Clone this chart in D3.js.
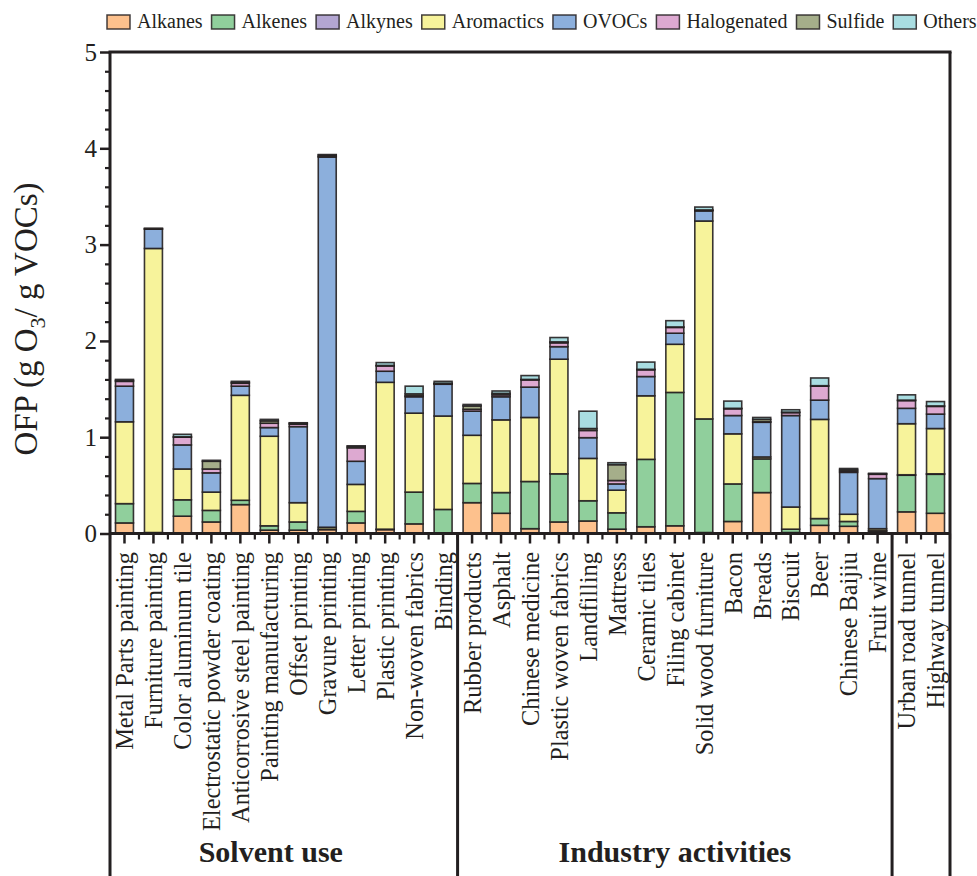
<!DOCTYPE html>
<html>
<head>
<meta charset="utf-8">
<script src="https://cdn.jsdelivr.net/npm/d3@7/dist/d3.min.js"></script>
<style>
  body { margin: 0; background: #fff; }
  svg { display: block; }
  text { font-family: "Liberation Serif", "Times New Roman", serif; fill: #231f20; }
</style>
</head>
<body>
<svg id="chart" width="977" height="876"></svg>
<script>
// Emission sources (x axis) and their grouping
const categories = [
  "Metal Parts painting", "Furniture painting", "Color aluminum tile", "Electrostatic powder coating",
  "Anticorrosive steel painting", "Painting manufacturing", "Offset printing", "Gravure printing",
  "Letter printing", "Plastic printing", "Non-woven fabrics", "Binding",
  "Rubber products", "Asphalt", "Chinese medicine", "Plastic woven fabrics", "Landfilling",
  "Mattress", "Ceramic tiles", "Filing cabinet", "Solid wood furniture", "Bacon", "Breads",
  "Biscuit", "Beer", "Chinese Baijiu", "Fruit wine",
  "Urban road tunnel", "Highway tunnel"
];
const groupNames = ["Solvent use", "Industry activities", ""];
const groupSizes = [12, 15, 2];

const seriesNames = ["Alkanes", "Alkenes", "Alkynes", "Aromactics", "OVOCs", "Halogenated", "Sulfide", "Others"];

// OFP contributions by compound class (g O3 / g VOCs)
const alkanes     = [0.11, 0.005, 0.18, 0.12, 0.30, 0.035, 0.035, 0.04, 0.11, 0.04, 0.10, 0.005,
                     0.32, 0.21, 0.05, 0.12, 0.13, 0.045, 0.07, 0.08, 0.01, 0.125, 0.425, 0.01, 0.085, 0.075, 0.025,
                     0.225, 0.21];
const alkenes     = [0.20, 0.005, 0.17, 0.12, 0.045, 0.045, 0.085, 0.005, 0.12, 0.005, 0.33, 0.245,
                     0.20, 0.215, 0.49, 0.50, 0.21, 0.17, 0.70, 1.385, 1.18, 0.39, 0.35, 0.035, 0.07, 0.05, 0.005,
                     0.38, 0.405];
const alkynes     = [0, 0, 0, 0, 0, 0, 0, 0, 0, 0, 0, 0,
                     0, 0, 0, 0, 0, 0, 0, 0, 0, 0, 0, 0, 0, 0, 0,
                     0.005, 0.005];
const aromatics   = [0.85, 2.95, 0.32, 0.19, 1.09, 0.93, 0.20, 0.02, 0.28, 1.525, 0.82, 0.97,
                     0.50, 0.755, 0.665, 1.19, 0.44, 0.235, 0.66, 0.50, 2.055, 0.52, 0.02, 0.23, 1.03, 0.075, 0.02,
                     0.53, 0.47];
const ovocs       = [0.37, 0.20, 0.25, 0.20, 0.095, 0.09, 0.79, 3.845, 0.24, 0.115, 0.17, 0.33,
                     0.25, 0.24, 0.315, 0.13, 0.215, 0.065, 0.20, 0.115, 0.105, 0.19, 0.36, 0.95, 0.20, 0.435, 0.52,
                     0.16, 0.15];
const halogenated = [0.05, 0.005, 0.08, 0.04, 0.03, 0.045, 0.025, 0.005, 0.14, 0.055, 0.01, 0.005,
                     0.02, 0.02, 0.075, 0.04, 0.075, 0.035, 0.07, 0.06, 0.005, 0.07, 0.005, 0.03, 0.145, 0.015, 0.045,
                     0.08, 0.08];
const sulfide     = [0.01, 0.005, 0.005, 0.08, 0.01, 0.025, 0.01, 0.015, 0.015, 0.005, 0.02, 0.005,
                     0.035, 0.015, 0.005, 0.01, 0.02, 0.165, 0.005, 0.005, 0.005, 0.005, 0.025, 0.005, 0.005, 0.015, 0.005,
                     0.005, 0.005];
const others      = [0.01, 0, 0.025, 0.01, 0.01, 0.015, 0.005, 0.005, 0.005, 0.03, 0.08, 0.02,
                     0.015, 0.025, 0.04, 0.045, 0.18, 0.02, 0.075, 0.065, 0.03, 0.075, 0.02, 0.025, 0.08, 0.01, 0.005,
                     0.055, 0.045];

const yTicks = [0, 1, 2, 3, 4, 5];

const seriesValues = [alkanes, alkenes, alkynes, aromatics, ovocs, halogenated, sulfide, others];
const fills = ["#fdc18d", "#90cf9c", "#b3a6d2", "#f7f39b", "#8cafdc", "#dda9d1", "#a5ae8a", "#a9dde1"];
const ink = "#231f20";

const svg = d3.select("#chart");
const H = 876;
const plotLeft = 110, plotRight = 950, plotTop = 52, plotBase = 533.5;

const x = d3.scaleBand().domain(categories).range([plotLeft, plotRight])
  .paddingInner(0.38).paddingOuter(0.19);
const y = d3.scaleLinear().domain([0, 5]).range([plotBase, plotTop]);
const color = d3.scaleOrdinal().domain(seriesNames).range(fills);

// rows for stacking
const rows = categories.map((c, i) => {
  const r = { category: c };
  seriesNames.forEach((s, k) => { r[s] = seriesValues[k][i]; });
  return r;
});
const stacked = d3.stack().keys(seriesNames)(rows);

// bars
const layers = svg.append("g").selectAll("g").data(stacked).join("g")
  .attr("fill", d => color(d.key));
layers.selectAll("rect")
  .data(d => d.filter(p => p[1] - p[0] > 0))
  .join("rect")
  .attr("x", p => x(p.data.category))
  .attr("width", x.bandwidth())
  .attr("y", p => y(p[1]))
  .attr("height", p => y(p[0]) - y(p[1]))
  .attr("stroke", ink)
  .attr("stroke-width", 1.6)
  .attr("stroke-opacity", 0.9);

// y axis: majors with labels, minors every 0.2
const yMajor = svg.append("g").attr("transform", `translate(${plotLeft},0)`)
  .call(d3.axisLeft(y).tickValues(yTicks).tickSize(10).tickPadding(3).tickFormat(d3.format("d")));
yMajor.select(".domain").remove();
yMajor.selectAll("line").attr("stroke", ink).attr("stroke-width", 2.5);
yMajor.selectAll("text").attr("font-size", 25).style("font-family", "'Liberation Serif', 'Times New Roman', serif").attr("fill", ink);

const minorVals = d3.range(0, 5.0001, 0.2).filter(v => Math.abs(v - Math.round(v)) > 1e-6);
const yMinor = svg.append("g").attr("transform", `translate(${plotLeft},0)`)
  .call(d3.axisLeft(y).tickValues(minorVals).tickSize(5).tickFormat(""));
yMinor.select(".domain").remove();
yMinor.selectAll("line").attr("stroke", ink).attr("stroke-width", 2.2);

// x axis: major ticks at bar centres, minor ticks on band boundaries
const xAxis = svg.append("g").attr("transform", `translate(0,${plotBase})`)
  .call(d3.axisBottom(x).tickSize(10).tickFormat(""));
xAxis.select(".domain").remove();
xAxis.selectAll("line").attr("stroke", ink).attr("stroke-width", 2.5);

const step = x.step();
const edges = d3.range(categories.length + 1).map(i => plotLeft + i * step);
svg.append("g").selectAll("line").data(edges).join("line")
  .attr("x1", d => d).attr("x2", d => d)
  .attr("y1", plotBase).attr("y2", plotBase + 6)
  .attr("stroke", ink).attr("stroke-width", 2.2);

// category labels, rotated
svg.append("g").selectAll("text").data(categories).join("text")
  .attr("transform", d => `translate(${x(d) + x.bandwidth() / 2},552) rotate(-90)`)
  .attr("text-anchor", "end")
  .attr("dy", "0.36em")
  .attr("font-size", 24.4)
  .text(d => d);

// frame
const frame = svg.append("g").attr("stroke", ink).attr("stroke-width", 3).attr("fill", "none");
frame.append("line").attr("x1", plotLeft - 1.5).attr("x2", plotRight + 1.5).attr("y1", plotTop).attr("y2", plotTop);
frame.append("line").attr("x1", plotLeft).attr("x2", plotLeft).attr("y1", plotTop).attr("y2", H);
frame.append("line").attr("x1", plotRight).attr("x2", plotRight).attr("y1", plotTop).attr("y2", H);
frame.append("line").attr("x1", plotLeft).attr("x2", plotRight).attr("y1", plotBase).attr("y2", plotBase);

// group separators and group titles
const groupLabelShift = [-13, 0, 0];
let start = 0;
groupSizes.forEach((n, g) => {
  const x0 = plotLeft + start * step, x1 = plotLeft + (start + n) * step;
  if (start + n < categories.length) {
    frame.append("line").attr("x1", x1).attr("x2", x1).attr("y1", plotBase).attr("y2", H);
  }
  if (groupNames[g]) {
    svg.append("text")
      .attr("x", (x0 + x1) / 2 + groupLabelShift[g]).attr("y", 862)
      .attr("text-anchor", "middle")
      .attr("font-size", 30).attr("font-weight", "bold")
      .text(groupNames[g]);
  }
  start += n;
});

// y axis title
const title = svg.append("text")
  .attr("transform", `translate(37,319) rotate(-90)`)
  .attr("text-anchor", "middle")
  .attr("font-size", 33);
title.append("tspan").text("OFP (g O");
title.append("tspan").attr("font-size", 22).attr("dy", 8).text("3");
title.append("tspan").attr("dy", -8).text("/ g VOCs)");

// legend
const legend = svg.append("g").attr("transform", "translate(107,0)");
let lx = 0;
seriesNames.forEach((s) => {
  const g = legend.append("g").attr("transform", `translate(${lx},0)`);
  g.append("rect").attr("x", 0).attr("y", 15).attr("width", 23).attr("height", 14)
    .attr("fill", color(s)).attr("stroke", ink).attr("stroke-width", 1.5).attr("stroke-opacity", 0.85);
  const t = g.append("text").attr("x", 30).attr("y", 28).attr("font-size", 20).text(s);
  lx += 30 + t.node().getComputedTextLength() + 9;
});
</script>
</body>
</html>
